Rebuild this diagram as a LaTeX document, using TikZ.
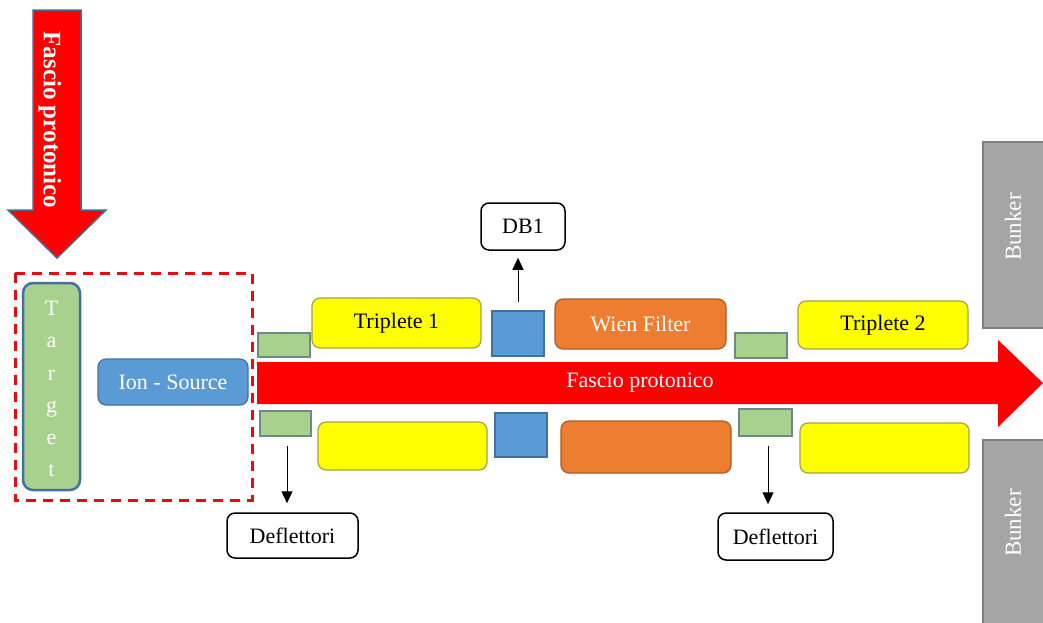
\documentclass[tikz,border=0pt]{standalone}
\usepackage{fontspec}
\setmainfont{Liberation Serif}
\usetikzlibrary{arrows.meta}
\definecolor{beamred}{HTML}{FF0000}
\definecolor{dashred}{HTML}{E01010}
\definecolor{arrowedge}{HTML}{4A6A8E}
\definecolor{lgreen}{HTML}{A9D18E}
\definecolor{greenedge}{HTML}{6A8C84}
\definecolor{yel}{HTML}{FFFF00}
\definecolor{yeledge}{HTML}{A3A24A}
\definecolor{ora}{HTML}{ED7D31}
\definecolor{oraedge}{HTML}{AE5A21}
\definecolor{blu}{HTML}{5B9BD5}
\definecolor{bluedge}{HTML}{41719C}
\definecolor{gry}{HTML}{A5A5A5}
\definecolor{gryedge}{HTML}{7F7F7F}
\tikzset{
  box/.style={rectangle, inner sep=0pt, line width=1.2pt},
  rbox/.style={box, rounded corners=8pt},
  txt/.style={font=\fontsize{22}{26}\selectfont},
  wtxt/.style={txt, text=white},
  trip/.style={rbox, fill=yel, draw=yeledge, txt},
  wien/.style={rbox, fill=ora, draw=oraedge, wtxt},
  defl/.style={box, fill=lgreen, draw=greenedge},
  dbox/.style={box, fill=blu, draw=bluedge},
  label box/.style={rbox, fill=white, draw=black, line width=1.5pt, txt},
  bunker/.style={box, fill=gry, draw=gryedge},
  pointer/.style={-{Triangle[length=12pt,width=11pt]}, line width=1pt, black},
}
\begin{document}
\begin{tikzpicture}[x=1pt,y=-1pt]
\useasboundingbox (0,0) rectangle (1043,622);

% incoming proton beam
\fill[beamred, draw=arrowedge, line width=1.5pt]
  (33,10) -- (81,10) -- (81,210) -- (106,210) -- (57,258) -- (8,210) -- (33,210) -- cycle;
\node[rotate=-90, text=white, font=\fontsize{25}{28}\selectfont\bfseries] (intxt) at (50,120) {Fascio protonico};

% target and ion source area
\draw[dashred, line width=3pt, dash pattern=on 10pt off 7pt] (15,273) rectangle (252,500);
\node[rbox, rounded corners=10pt, fill=lgreen, draw=bluedge, line width=2.5pt,
      minimum width=57pt, minimum height=207pt] (target) at (51.5,386.5) {};
\node[text=white, align=center, font=\fontsize{22}{32.2}\selectfont] (targettxt) at (51.5,389)
  {T\\a\\r\\g\\e\\t};
\node[rbox, fill=blu, draw=bluedge, wtxt, minimum width=150pt, minimum height=46pt] (ion) at (173,382) {Ion - Source};

% main beam line
\fill[beamred]
  (257,362) -- (998,362) -- (998,340) -- (1043,383) -- (998,427) -- (998,404) -- (257,404) -- cycle;
\node[wtxt] (beamtxt) at (640,383) {Fascio protonico};

% deflectors
\node[defl, minimum width=52pt, minimum height=24pt] (gTL) at (284,345) {};
\node[defl, minimum width=51pt, minimum height=25pt] (gBL) at (285.5,423.5) {};
\node[defl, minimum width=52pt, minimum height=25pt] (gTR) at (761,345.5) {};
\node[defl, minimum width=53pt, minimum height=27pt] (gBR) at (765.5,422.5) {};

% triplets
\node[trip, minimum width=169pt, minimum height=50pt] (trip1) at (396.5,323) {Triplete 1};
\node[trip, minimum width=169pt, minimum height=48pt] (trip1b) at (402.5,446) {};
\node[trip, minimum width=170pt, minimum height=48pt] (trip2) at (883,325) {Triplete 2};
\node[trip, minimum width=169pt, minimum height=50pt] (trip2b) at (884.5,448) {};

% diagnostic box
\node[dbox, minimum width=52pt, minimum height=45pt] (bT) at (518,333.5) {};
\node[dbox, minimum width=52pt, minimum height=44pt] (bB) at (521,435) {};

% Wien filter
\node[wien, minimum width=171pt, minimum height=50pt] (wien) at (640.5,324) {Wien Filter};
\node[wien, minimum width=170pt, minimum height=52pt] (wienb) at (646,447) {};

% bunker walls
\node[bunker, minimum width=64pt, minimum height=186pt] (bunkT) at (1015,235) {};
\node[wtxt, rotate=90, font=\fontsize{23}{26}\selectfont] (bunkTtxt) at (1013,227) {Bunker};
\node[bunker, minimum width=64pt, minimum height=190pt] (bunkB) at (1015,535) {};
\node[wtxt, rotate=90, font=\fontsize{23}{26}\selectfont] (bunkBtxt) at (1013,523) {Bunker};

% labels
\node[label box, minimum width=84pt, minimum height=47pt] (db1) at (523,226.5) {DB1};
\node[label box, minimum width=131pt, minimum height=45pt] (defL) at (292.5,535.5) {Deflettori};
\node[label box, minimum width=115pt, minimum height=47pt] (defR) at (775.5,536.5) {Deflettori};

% pointers
\draw[pointer, shorten <=8pt, shorten >=7pt] (bT.north) -- (bT.north |- db1.south);
\draw[pointer, shorten <=9pt, shorten >=9pt] ([xshift=1.5pt]gBL.south) -- ([xshift=1.5pt]gBL.south |- defL.north);
\draw[pointer, shorten <=9pt, shorten >=8pt] ([xshift=2.5pt]gBR.south) -- ([xshift=2.5pt]gBR.south |- defR.north);
\end{tikzpicture}
\end{document}
